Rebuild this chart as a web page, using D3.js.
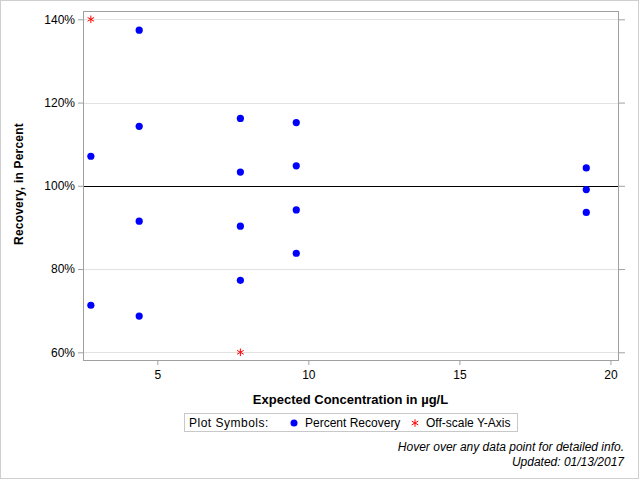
<!DOCTYPE html>
<html>
<head>
<meta charset="utf-8">
<script src="https://cdn.jsdelivr.net/npm/d3@7"></script>
<style>
  body { margin: 0; background: #fff; }
  svg { font-family: 'Liberation Sans', Arial, sans-serif; }
</style>
</head>
<body>
<div id="chart"></div>
<script>
// data
const concentration = [2.8, 2.8, 4.4, 4.4, 4.4, 4.4, 7.75, 7.75, 7.75, 7.75, 9.6, 9.6, 9.6, 9.6, 19.2, 19.2, 19.2];
const recovery = [107.1, 71.3, 137.4, 114.3, 91.5, 68.7, 116.2, 103.3, 90.3, 77.3, 115.2, 104.8, 94.2, 83.8, 104.3, 99.1, 93.6];
const offConc = [2.8, 7.75];
const offValue = [140, 60];
const xTicks = [5, 10, 15, 20];
const yTicks = [60, 80, 100, 120, 140];

(function() {
    const W = 640, H = 480;
    const pLeft = 83, pRight = 618, pTop = 11, pBottom = 360;

    const svg = d3.select('#chart').append('svg')
        .attr('width', W)
        .attr('height', H);

    // outer border
    svg.append('rect')
        .attr('x', 0.5).attr('y', 0.5)
        .attr('width', W - 2).attr('height', H - 2)
        .attr('fill', 'none').attr('stroke', '#cfcfcf');

    const x = d3.scaleLinear().domain([2.54, 20.25]).range([pLeft, pRight]);
    const y = d3.scaleLinear().domain([58.15, 142]).range([pBottom, pTop]);

    // grid lines
    svg.append('g').selectAll('line').data(yTicks).enter().append('line')
        .attr('x1', pLeft).attr('x2', pRight)
        .attr('y1', d => Math.round(y(d)) + 0.5)
        .attr('y2', d => Math.round(y(d)) + 0.5)
        .attr('stroke', '#e2e2e2');

    // reference line at 100%
    svg.append('line')
        .attr('x1', pLeft).attr('x2', pRight)
        .attr('y1', Math.round(y(100)) + 0.5).attr('y2', Math.round(y(100)) + 0.5)
        .attr('stroke', '#000');

    // axes
    const yAxis = d3.axisLeft(y).tickValues(yTicks).tickSize(5).tickPadding(3).tickFormat(d => d + '%');
    const yAxisR = d3.axisRight(y).tickValues(yTicks).tickSize(7).tickFormat('');
    const xAxis = d3.axisBottom(x).tickValues(xTicks).tickSize(5).tickPadding(5);

    const gy = svg.append('g').attr('transform', `translate(${pLeft},0)`).call(yAxis);
    const gyr = svg.append('g').attr('transform', `translate(${pRight},0)`).call(yAxisR);
    const gx = svg.append('g').attr('transform', `translate(0,${pBottom})`).call(xAxis);

    [gy, gyr, gx].forEach(g => {
        g.select('.domain').remove();
        g.selectAll('line').attr('stroke', '#a0a0a0');
        g.selectAll('text').attr('fill', '#000').style('font-size', '12px')
            .style('font-family', "'Liberation Sans', Arial, sans-serif");
    });

    // frame
    svg.append('rect')
        .attr('x', pLeft + 0.5).attr('y', pTop + 0.5)
        .attr('width', pRight - pLeft).attr('height', pBottom - pTop)
        .attr('fill', 'none').attr('stroke', '#a0a0a0');

    // axis labels
    svg.append('text')
        .attr('x', (pLeft + pRight) / 2).attr('y', 404)
        .attr('text-anchor', 'middle')
        .style('font-size', '13px').style('font-weight', 'bold')
        .text('Expected Concentration in µg/L');

    svg.append('text')
        .attr('transform', `translate(23,184) rotate(-90)`)
        .attr('text-anchor', 'middle')
        .style('font-size', '12px').style('font-weight', 'bold')
        .style('letter-spacing', '0.2px')
        .text('Recovery, in Percent');

    // points
    const pts = concentration.map((c, i) => ({ c: c, v: recovery[i] }));
    svg.append('g').selectAll('circle').data(pts).enter().append('circle')
        .attr('cx', d => x(d.c))
        .attr('cy', d => y(d.v))
        .attr('r', 3.6)
        .attr('fill', '#0000ff');

    const star = d3.symbol().type(d3.symbolAsterisk).size(40);
    const offPts = offConc.map((c, i) => ({ c: c, v: offValue[i] }));
    svg.append('g').selectAll('path').data(offPts).enter().append('path')
        .attr('d', star)
        .attr('transform', d => `translate(${x(d.c)},${y(d.v)})`)
        .attr('fill', 'none').attr('stroke', '#ff0000').attr('stroke-width', 1);

    // legend
    const lg = svg.append('g');
    lg.append('rect')
        .attr('x', 184.5).attr('y', 413.5).attr('width', 333).attr('height', 18)
        .attr('fill', 'none').attr('stroke', '#c8c8c8');
    lg.append('text').attr('x', 189).attr('y', 427).style('font-size', '12px')
        .style('letter-spacing', '0.5px').text('Plot Symbols:');
    lg.append('circle').attr('cx', 294).attr('cy', 423).attr('r', 3.5).attr('fill', '#0000ff');
    lg.append('text').attr('x', 305).attr('y', 427).style('font-size', '12px').text('Percent Recovery');
    lg.append('path').attr('d', star).attr('transform', 'translate(415,423)')
        .attr('fill', 'none').attr('stroke', '#ff0000');
    lg.append('text').attr('x', 426).attr('y', 427).style('font-size', '12px').text('Off-scale Y-Axis');

    // footnotes
    svg.append('text').attr('x', 624).attr('y', 451).attr('text-anchor', 'end')
        .style('font-size', '12px').style('font-style', 'italic')
        .text('Hover over any data point for detailed info.');
    svg.append('text').attr('x', 624).attr('y', 466).attr('text-anchor', 'end')
        .style('font-size', '12px').style('font-style', 'italic')
        .text('Updated: 01/13/2017');
}());
</script>
</body>
</html>
